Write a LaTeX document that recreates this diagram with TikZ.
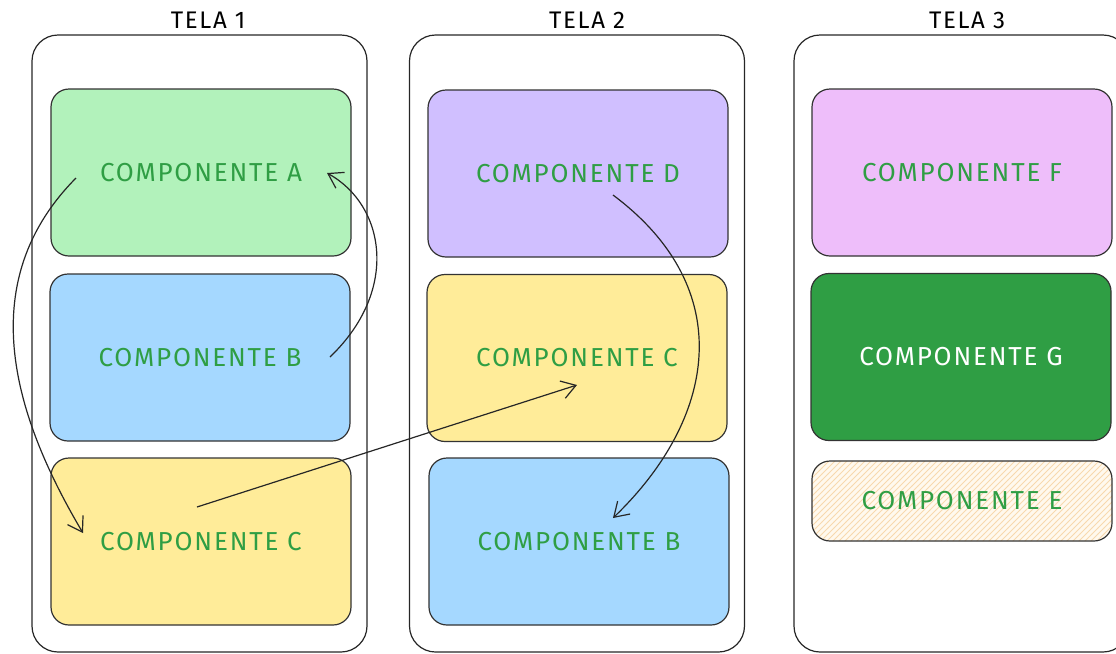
\documentclass[tikz,border=0pt]{standalone}
\usepackage{fontspec}
\setmainfont{Fira Sans}
\newfontfamily\compfont{Fira Sans}[LetterSpace=7]
\usetikzlibrary{arrows.meta,patterns}
\definecolor{txtgreen}{HTML}{2F9E44}
\definecolor{cgreen}{HTML}{B2F2BB}
\definecolor{cblue}{HTML}{A5D8FF}
\definecolor{cyellow}{HTML}{FFEC99}
\definecolor{cpurple}{HTML}{D0BFFF}
\definecolor{cpink}{HTML}{EEBEFA}
\definecolor{cdark}{HTML}{2F9E44}
\definecolor{ccream}{HTML}{FFF9EE}
\definecolor{chatch}{HTML}{F7D9AE}
\begin{document}
\begin{tikzpicture}[x=0.5pt,y=-0.5pt]
  \tikzstyle{tela}=[draw=black!85,line width=0.6pt,rounded corners=13pt,minimum width=167.5pt,minimum height=308.5pt]
  \tikzstyle{title}=[font=\compfont\fontsize{12}{14}\selectfont]
  \tikzstyle{comp}=[draw=black!80,line width=0.6pt,rounded corners=9pt,minimum width=150pt,minimum height=83.5pt,text=txtgreen,font=\compfont\fontsize{13}{15}\selectfont]
  \tikzstyle{line}=[draw=black!85,line width=0.6pt,-{Straight Barb[length=7pt,width=9pt]}]
  \useasboundingbox (0,0) rectangle (1116,654);
  % screens
  \node[tela] (tela1) at (199.5,343.5) {};
  \node[tela] (tela2) at (577,343.5)   {};
  \node[tela] (tela3) at (961.5,343.5) {};
  \node[title] (tela1label) at (208,20) {TELA 1};
  \node[title] (tela2label) at (587,20) {TELA 2};
  \node[title] (tela3label) at (967,20) {TELA 3};
  % tela 1
  \node[comp,fill=cgreen]  (A1) at (201,172.5) {COMPONENTE A};
  \node[comp,fill=cblue]   (B1) at (200,357.5) {COMPONENTE B};
  \node[comp,fill=cyellow] (C1) at (201,541.5) {COMPONENTE C};
  % tela 2
  \node[comp,fill=cpurple] (D2) at (578,173.5) {COMPONENTE D};
  \node[comp,fill=cyellow] (C2) at (577,358)   {COMPONENTE C};
  \node[comp,fill=cblue]   (B2) at (579,541.5) {COMPONENTE B};
  % tela 3
  \node[comp,fill=cpink]   (F3) at (962,172.5) {COMPONENTE F};
  \node[comp,fill=cdark,text=white] (G3) at (961,357) {COMPONENTE G};
  \node[comp,minimum height=40pt,preaction={fill=ccream},pattern=north east lines,pattern color=chatch] (E3) at (962,501) {COMPONENTE E};
  % arrows
  \coordinate (A1out) at (76,178);
  \coordinate (C1in)  at (83,533);
  \coordinate (B1out) at (330,357);
  \coordinate (A1in)  at (327,173);
  \coordinate (C1out) at (197,507);
  \coordinate (C2in)  at (577,385);
  \coordinate (D2out) at (613,195);
  \coordinate (B2in)  at (613,518);
  \draw[line] (A1out) .. controls (-25,280) and (10,410) .. (C1in);
  \draw[line] (B1out) .. controls (400,290) and (385,205) .. (A1in);
  \draw[line] (C1out) -- (C2in);
  \draw[line] (D2out) .. controls (740,290) and (715,420) .. (B2in);
\end{tikzpicture}
\end{document}
